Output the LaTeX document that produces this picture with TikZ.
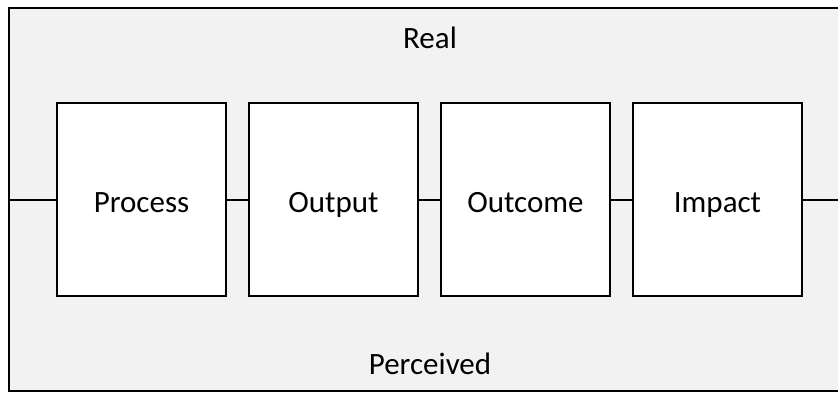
\documentclass[tikz,border=0pt]{standalone}
\usepackage{fontspec}
\setmainfont{Carlito}
\definecolor{panelgray}{HTML}{F2F2F2}
\begin{document}
\begin{tikzpicture}[x=1pt,y=-1pt,
  stage/.style={draw=black, fill=white, line width=2pt, minimum width=169pt,
    minimum height=193pt, inner sep=0pt},
  caption/.style={anchor=base, inner sep=0pt, font=\fontsize{31}{36}\selectfont},
  link/.style={draw=black, line width=2pt}]
  \useasboundingbox (0,0) rectangle (838,392);
  \clip (0,0) rectangle (838,392);
  % background panel
  \draw[fill=panelgray, draw=black, line width=2pt] (9,8) rectangle (851,391);
  \node[caption] (real) at (430,48) {Real};
  \node[caption] (perceived) at (430,374) {Perceived};
  % stages
  \node[stage] (process) at (141.5,199.5) {};
  \node[stage] (output)  at (333.5,199.5) {};
  \node[stage] (outcome) at (525.5,199.5) {};
  \node[stage] (impact)  at (717.5,199.5) {};
  \node[caption] (tprocess) at (141.5,212) {Process};
  \node[caption] (toutput)  at (333.5,212) {Output};
  \node[caption] (toutcome) at (525.5,212) {Outcome};
  \node[caption] (timpact)  at (717.5,212) {Impact};
  % connectors
  \coordinate (lin) at (9,199.5);
  \coordinate (rout) at (851,199.5);
  \draw[link] (lin) -- (process.west);
  \draw[link] (process.east) -- (output.west);
  \draw[link] (output.east) -- (outcome.west);
  \draw[link] (outcome.east) -- (impact.west);
  \draw[link] (impact.east) -- (rout);
\end{tikzpicture}
\end{document}
